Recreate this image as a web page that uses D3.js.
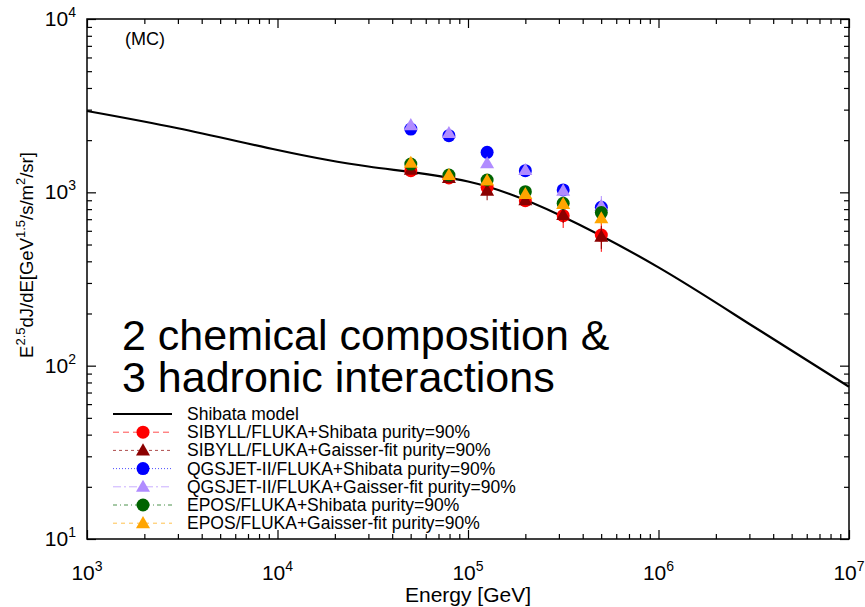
<!DOCTYPE html>
<html>
<head>
<meta charset="utf-8">
<script src="https://cdn.jsdelivr.net/npm/d3@7"></script>
<style>
body { margin: 0; background: #fff; }
text { font-family: "Liberation Sans", Arial, sans-serif; fill: #000; }
</style>
</head>
<body>
<div id="chart"></div>
<script>
var width = 865;
var height = 607;

// Shibata model curve (energy in GeV, E^2.5 dJ/dE)
var modelEnergy = [1e3, 3e3, 1e4, 3e4, 1e5, 3e5, 1e6, 3e6, 1e7];
var modelFlux   = [2946, 2342, 1755, 1409, 1155, 743, 369, 174, 75.6];

// MC points
var pointEnergy = [5.01e4, 7.94e4, 1.26e5, 2.0e5, 3.16e5, 5.01e5];
var sibyllShibata = [1333, 1210, 1069, 895, 733, 567];
var sibyllGaisser = [1350, 1210, 1023, 900, 740, 555];
var qgsShibata    = [2317, 2123, 1702, 1333, 1033, 820];
var qgsGaisser    = [2443, 2199, 1472, 1345, 1023, 835];
var eposShibata   = [1455, 1259, 1178, 1009, 865, 764];
var eposGaisser   = [1480, 1259, 1170, 978, 858, 708];
// relative errors
var sibyllShibataErr = [0.03, 0.04, 0.05, 0.06, 0.15, 0.20];
var sibyllGaisserErr = [0.03, 0.05, 0.12, 0.06, 0.10, 0.15];
var qgsShibataErr    = [0.03, 0.03, 0.04, 0.05, 0.06, 0.10];
var qgsGaisserErr    = [0.03, 0.03, 0.05, 0.05, 0.07, 0.14];
var eposShibataErr   = [0.03, 0.03, 0.04, 0.05, 0.06, 0.08];
var eposGaisserErr   = [0.03, 0.03, 0.04, 0.05, 0.06, 0.08];

var seriesNames = [
	"SIBYLL/FLUKA+Shibata purity=90%",
	"SIBYLL/FLUKA+Gaisser-fit purity=90%",
	"QGSJET-II/FLUKA+Shibata purity=90%",
	"QGSJET-II/FLUKA+Gaisser-fit purity=90%",
	"EPOS/FLUKA+Shibata purity=90%",
	"EPOS/FLUKA+Gaisser-fit purity=90%"
];
var seriesValues = [sibyllShibata, sibyllGaisser, qgsShibata, qgsGaisser, eposShibata, eposGaisser];
var seriesErrors = [sibyllShibataErr, sibyllGaisserErr, qgsShibataErr, qgsGaisserErr, eposShibataErr, eposGaisserErr];
var seriesColors = ["#ff0000", "#8b0000", "#0000ff", "#b08cff", "#006400", "#ffa500"];
var seriesShapes = ["circle", "triangle", "circle", "triangle", "circle", "triangle"];
var seriesDash = ["6,4", "3,3", "1,2", "8,3,2,3", "4,3,1,3", "4,4"];

var xExponents = [3, 4, 5, 6, 7];
var yExponents = [1, 2, 3, 4];

var plotLeft = 87, plotRight = 849, plotTop = 19, plotBottom = 539;

window.onload = start;

function start() {
	var xScale = d3.scaleLog().domain([1e3, 1e7]).range([plotLeft, plotRight]);
	var yScale = d3.scaleLog().domain([10, 1e4]).range([plotBottom, plotTop]);

	var chart = d3.select("#chart")
		.append("svg")
		.attr("width", width)
		.attr("height", height);

	var xMajor = xExponents.map(function(e) { return Math.pow(10, e); });
	var yMajor = yExponents.map(function(e) { return Math.pow(10, e); });
	var xMinor = [], yMinor = [];
	xMajor.slice(0, -1).forEach(function(d) { for (var k = 2; k < 10; k++) xMinor.push(d * k); });
	yMajor.slice(0, -1).forEach(function(d) { for (var k = 2; k < 10; k++) yMinor.push(d * k); });

	// axes ticks, inward, mirrored
	function ticks(axis, values, size, transform) {
		chart.append("g")
			.attr("transform", transform)
			.call(axis.tickValues(values).tickSize(size).tickSizeOuter(0).tickFormat(""))
			.call(function(g) {
				g.select(".domain").remove();
				g.selectAll("line").attr("stroke", "#000").attr("stroke-width", 1.2);
			});
	}
	ticks(d3.axisBottom(xScale), xMajor, -9, "translate(0," + plotBottom + ")");
	ticks(d3.axisBottom(xScale), xMinor, -5, "translate(0," + plotBottom + ")");
	ticks(d3.axisTop(xScale), xMajor, -9, "translate(0," + plotTop + ")");
	ticks(d3.axisTop(xScale), xMinor, -5, "translate(0," + plotTop + ")");
	ticks(d3.axisLeft(yScale), yMajor, -9, "translate(" + plotLeft + ",0)");
	ticks(d3.axisLeft(yScale), yMinor, -5, "translate(" + plotLeft + ",0)");
	ticks(d3.axisRight(yScale), yMajor, -9, "translate(" + plotRight + ",0)");
	ticks(d3.axisRight(yScale), yMinor, -5, "translate(" + plotRight + ",0)");

	// frame
	chart.append("rect")
		.attr("x", plotLeft).attr("y", plotTop)
		.attr("width", plotRight - plotLeft).attr("height", plotBottom - plotTop)
		.attr("fill", "none").attr("stroke", "#000").attr("stroke-width", 1.5);

	// tick labels 10^n
	var xl = chart.selectAll(".xlab").data(xExponents).enter()
		.append("text")
		.attr("x", function(d) { return xScale(Math.pow(10, d)); })
		.attr("y", 580)
		.style("font-size", "21px")
		.attr("text-anchor", "middle");
	xl.append("tspan").text("10");
	xl.append("tspan").attr("dy", -9).style("font-size", "14px").text(function(d) { return d; });

	var yl = chart.selectAll(".ylab").data(yExponents).enter()
		.append("text")
		.attr("x", 76)
		.attr("y", function(d) { return yScale(Math.pow(10, d)) + 7; })
		.style("font-size", "21px")
		.attr("text-anchor", "end");
	yl.append("tspan").text("10");
	yl.append("tspan").attr("dy", -9).style("font-size", "14px").text(function(d) { return d; });

	// axis titles
	chart.append("text")
		.attr("x", (plotLeft + plotRight) / 2)
		.attr("y", 602)
		.attr("text-anchor", "middle")
		.style("font-size", "21px")
		.text("Energy [GeV]");

	var yt = chart.append("text")
		.attr("transform", "translate(33," + 255 + ") rotate(-90)")
		.attr("text-anchor", "middle")
		.style("font-size", "18.5px");
	yt.append("tspan").text("E");
	yt.append("tspan").attr("dy", -8).style("font-size", "13px").text("2.5");
	yt.append("tspan").attr("dy", 8).text("dJ/dE[GeV");
	yt.append("tspan").attr("dy", -8).style("font-size", "13px").text("1.5");
	yt.append("tspan").attr("dy", 8).text("/s/m");
	yt.append("tspan").attr("dy", -8).style("font-size", "13px").text("2");
	yt.append("tspan").attr("dy", 8).text("/sr]");

	// model curve
	var line = d3.line()
		.x(function(d) { return xScale(d[0]); })
		.y(function(d) { return yScale(d[1]); })
		.curve(d3.curveNatural);
	chart.append("path")
		.datum(d3.zip(modelEnergy, modelFlux))
		.attr("d", line)
		.attr("fill", "none")
		.attr("stroke", "#000")
		.attr("stroke-width", 2.2);

	var triangle = d3.symbol().type(d3.symbolTriangle).size(85);

	function marker(g, shape, color, cx, cy) {
		if (shape == "circle") {
			g.append("circle").attr("cx", cx).attr("cy", cy).attr("r", 6.5).attr("fill", color);
		} else {
			g.append("path").attr("d", triangle)
				.attr("transform", "translate(" + cx + "," + (cy + 1) + ")")
				.attr("fill", color);
		}
	}

	// points with error bars
	seriesValues.forEach(function(vals, s) {
		var g = chart.append("g");
		vals.forEach(function(v, i) {
			var cx = xScale(pointEnergy[i]);
			var err = seriesErrors[s][i];
			g.append("line")
				.attr("x1", cx).attr("x2", cx)
				.attr("y1", yScale(v * (1 + err))).attr("y2", yScale(v * (1 - err)))
				.attr("stroke", seriesColors[s]).attr("stroke-width", 1);
			marker(g, seriesShapes[s], seriesColors[s], cx, yScale(v));
		});
	});

	// labels
	chart.append("text").attr("x", 145).attr("y", 45)
		.attr("text-anchor", "middle").style("font-size", "18px").text("(MC)");
	chart.append("text").attr("x", 122).attr("y", 350)
		.style("font-size", "43px").text("2 chemical composition &");
	chart.append("text").attr("x", 122).attr("y", 392)
		.style("font-size", "43px").text("3 hadronic interactions");

	// legend
	var legX1 = 113, legX2 = 172, legText = 187, legY = 414, legStep = 18.2;
	chart.append("line")
		.attr("x1", legX1).attr("x2", legX2).attr("y1", legY).attr("y2", legY)
		.attr("stroke", "#000").attr("stroke-width", 2.2);
	chart.append("text").attr("x", legText).attr("y", legY + 6)
		.style("font-size", "17.5px").text("Shibata model");
	seriesNames.forEach(function(name, s) {
		var y = legY + legStep * (s + 1);
		var g = chart.append("g");
		g.append("line")
			.attr("x1", legX1).attr("x2", legX2).attr("y1", y).attr("y2", y)
			.attr("stroke", seriesColors[s]).attr("stroke-width", 1)
			.attr("stroke-opacity", 0.7)
			.attr("stroke-dasharray", seriesDash[s]);
		marker(g, seriesShapes[s], seriesColors[s], 143, y);
		g.append("text").attr("x", legText).attr("y", y + 6)
			.style("font-size", "17.5px").text(name);
	});
}
</script>
</body>
</html>
